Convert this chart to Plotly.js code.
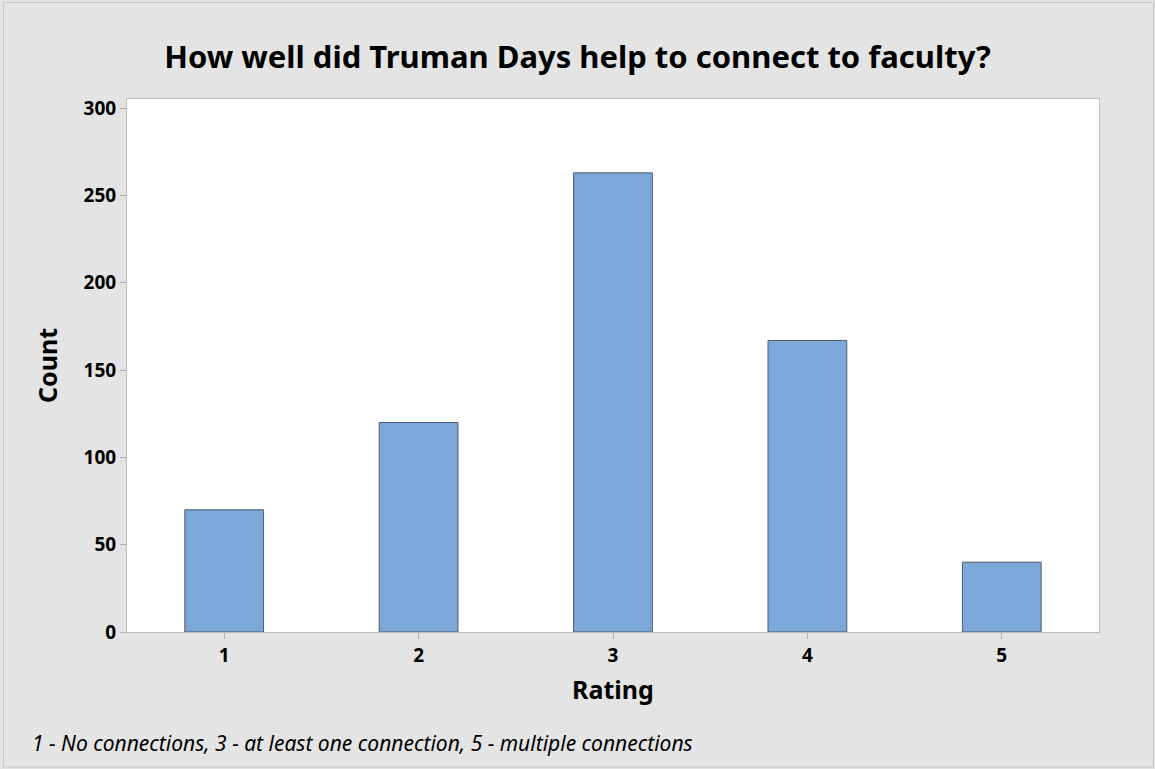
<!DOCTYPE html>
<html><head><meta charset="utf-8">
<script src="https://cdn.plot.ly/plotly-3.0.1.min.js"></script>
<style>html,body{margin:0;padding:0;background:#e4e4e4}#chart{width:1155px;height:769px}</style>
</head><body><div id="chart"></div>
<script>
const ratings = [1, 2, 3, 4, 5];
const counts = [70, 120, 263, 167, 40];
const tickLabels = ['1', '2', '3', '4', '5'];
const yTicks = [0, 50, 100, 150, 200, 250, 300];

const W = 1155, H = 769;
const L = 127, R = 1099, T = 99, B = 632.3;
const pw = R - L, ph = B - T;
const px = x => (x - L) / pw;
const py = y => (B - y) / ph;

const font = 'Noto Sans, Open Sans, sans-serif';
const trace = {
  type: 'bar', x: ratings, y: counts, width: 0.405,
  marker: {color: '#7ba7d9', line: {color: '#4f5b69', width: 1}},
  hoverinfo: 'x+y'
};
const layout = {
  width: W, height: H,
  paper_bgcolor: '#e4e4e4', plot_bgcolor: '#ffffff',
  margin: {l: L, r: W - R, t: T, b: H - B},
  showlegend: false,
  font: {family: font, color: '#000'},
  title: {text: '<b>How well did Truman Days help to connect to faculty?</b>',
    font: {size: 31, family: font, color: '#000'}, x: 0.5, xanchor: 'center', y: 1 - 57/H, yanchor: 'middle'},
  xaxis: {range: [0.5, 5.5], tickvals: ratings, ticktext: tickLabels, ticks: 'outside', ticklen: 6,
    tickcolor: '#b0b0b0', showline: true, mirror: true, linecolor: '#bdbdbd', linewidth: 1,
    showgrid: false, zeroline: false, tickfont: {size: 19, family: font, color: '#000', weight: 'bold'},
    title: {text: '<b>Rating</b>', font: {size: 25, family: font, color: '#000'}, standoff: 14}},
  yaxis: {range: [0, 305.3], tickvals: yTicks, ticks: 'outside', ticklen: 6,
    tickcolor: '#b0b0b0', showline: true, mirror: true, linecolor: '#bdbdbd', linewidth: 1,
    showgrid: false, zeroline: false, tickfont: {size: 19, family: font, color: '#000', weight: 'bold'},
    title: {text: '<b>Count</b>', font: {size: 25, family: font, color: '#000'}, standoff: 18}},
  annotations: [{
    text: '<i>1 - No connections, 3 - at least one connection, 5 - multiple connections</i>',
    xref: 'paper', yref: 'paper', x: px(30), y: py(743), xanchor: 'left', yanchor: 'middle',
    showarrow: false, font: {size: 21, family: font, color: '#000'}
  }],
  shapes: [{
    type: 'rect', xref: 'paper', yref: 'paper', x0: px(3.5), x1: px(1153.5), y0: py(767.5), y1: py(2.5),
    line: {color: '#c8c8c8', width: 1}, fillcolor: 'rgba(0,0,0,0)', layer: 'below'
  }]
};
Plotly.newPlot('chart', [trace], layout, {displayModeBar: false, staticPlot: true});
</script></body></html>
